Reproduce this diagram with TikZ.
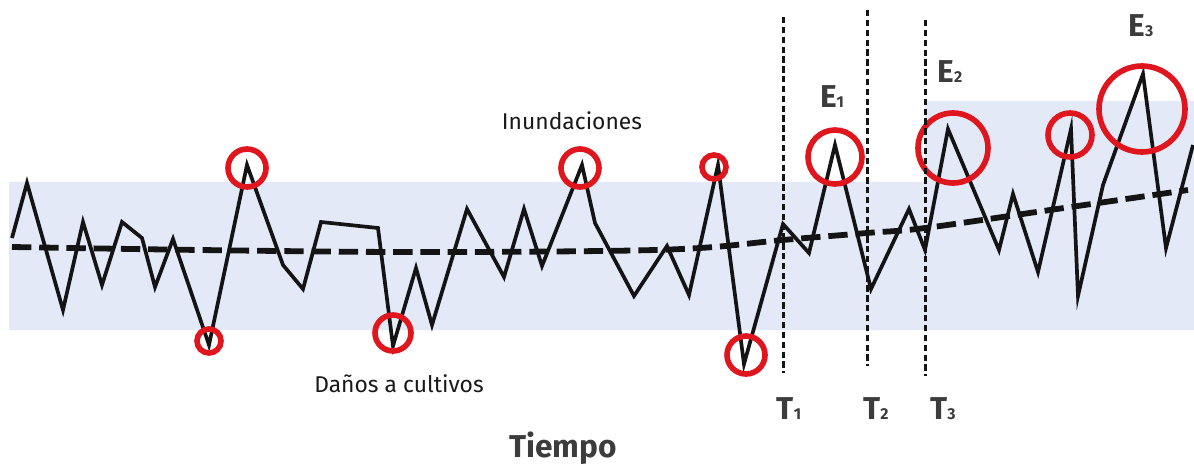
\documentclass[tikz,border=0pt]{standalone}
\usepackage{fontspec}
\setmainfont{Fira Sans}
\usepackage{tikz}
\definecolor{band}{HTML}{E3E9F6}
\definecolor{ring}{HTML}{E0161E}
\definecolor{lbl}{HTML}{3C3C3C}
\newcommand\idx[1]{{\fontsize{9}{9}\selectfont #1}}
\tikzset{
  serie/.style={line width=2.1pt, line join=miter, color=black!92},
  trend/.style={line width=3.3pt, dash pattern=on 11pt off 4.5pt, color=black!92},
  corte/.style={line width=1.7pt, dash pattern=on 3.6pt off 2pt, color=black!92},
  evento/.style={line width=3.2pt, draw=ring},
  etiq/.style={font=\fontsize{13}{13}\selectfont, text=black!90},
  marca/.style={font=\fontsize{18}{18}\selectfont\bfseries, text=lbl}
}

\begin{document}
\begin{tikzpicture}[x=0.02cm, y=-0.02cm]
  \useasboundingbox (0,0) rectangle (1194,466);

  \fill[band] (9,182) -- (925,182) -- (925,101) -- (1194,101)
    -- (1194,330) -- (9,330) -- cycle;

  \draw[serie] (12,238) -- (27,183) -- (63,310) -- (83,222) -- (102,285)
    -- (122,222) -- (142,238) -- (155,287) -- (173,239) -- (209,345)
    -- (247,165) -- (283,265) -- (303,289) -- (321,222) -- (378,228)
    -- (393,346) -- (416,268) -- (432,325) -- (467,209) -- (504,277)
    -- (524,209) -- (542,266) -- (582,165) -- (595,223) -- (634,296)
    -- (667,246) -- (689,295) -- (718,165) -- (744,364) -- (783,224)
    -- (809,253) -- (835,145) -- (871,289) -- (909,209) -- (925,250)
    -- (948,129) -- (999,250) -- (1013,194) -- (1038,272) -- (1071,129)
    -- (1078,296) -- (1103,185) -- (1143,74) -- (1166,248) -- (1193,145);

  \draw[trend] plot[smooth, tension=.6] coordinates {(12,247) (200,250)
    (400,252) (600,251) (700,248) (783,240) (867,233) (925,228)
    (1050,210) (1188,190)};

  \foreach \cx/\cy/\r in {247/168/19, 209/341/12, 393/333/18, 580/168/19,
    714/167/12, 746/355/19, 835/157/27, 953/148/35, 1070/135/22,
    1142/109/43}
    \draw[evento] (\cx,\cy) circle[radius=\r*0.02cm];

  \coordinate (t1a) at (783,17);  \coordinate (t1b) at (783,373);
  \coordinate (t2a) at (867,10);  \coordinate (t2b) at (867,366);
  \coordinate (t3a) at (925,20);  \coordinate (t3b) at (925,376);
  \draw[corte] (t1a) -- (t1b);
  \draw[corte] (t2a) -- (t2b);
  \draw[corte] (t3a) -- (t3b);

  \node[etiq] (inund) at (572,121) {Inundaciones};
  \node[etiq] (danos) at (399,384) {Daños a cultivos};

  \node[marca] (e1) at (832,97) {E\idx{1}};
  \node[marca] (e2) at (950,72) {E\idx{2}};
  \node[marca] (e3) at (1141,26) {E\idx{3}};

  \node[marca] (t1) at (789,409) {T\idx{1}};
  \node[marca] (t2) at (876,409) {T\idx{2}};
  \node[marca] (t3) at (943,409) {T\idx{3}};

  \node[font=\fontsize{18}{18}\selectfont\bfseries, text=lbl] (tiempo) at (563,448) {Tiempo};
\end{tikzpicture}
\end{document}
